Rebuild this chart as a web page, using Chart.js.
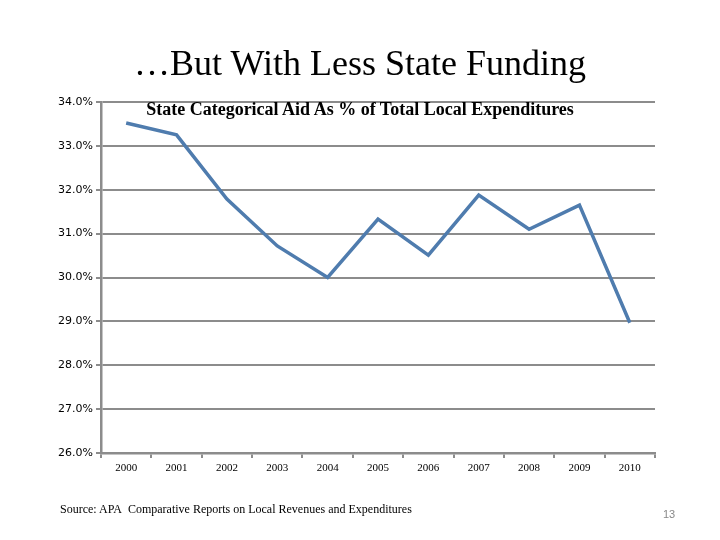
<!DOCTYPE html>
<html>
<head>
<meta charset="utf-8">
<script src="https://cdn.jsdelivr.net/npm/chart.js@4"></script>
<style>
  body { margin: 0; background: #fff; }
  .slide { position: relative; width: 720px; height: 540px; overflow: hidden; }
  #chart { position: absolute; left: 0; top: 0; }
  .title { position: absolute; left: 0; width: 720px; top: 42px; text-align: center;
           font-family: "Liberation Serif", serif; font-size: 36px; color: #000; }
  .subtitle { position: absolute; left: 0; width: 720px; top: 99px; text-align: center;
              font-family: "Liberation Serif", serif; font-size: 18px; font-weight: bold; color: #000; }
  .source { position: absolute; left: 60px; top: 502px;
            font-family: "Liberation Serif", serif; font-size: 12px; color: #000; }
  .page { position: absolute; left: 663px; top: 508px;
          font-family: "Liberation Sans", sans-serif; font-size: 11px; color: #888; }
</style>
</head>
<body>
<div class="slide">
  <canvas id="chart" width="720" height="540"></canvas>
  <div class="title">…But With Less State Funding</div>
  <div class="subtitle">State Categorical Aid As % of Total Local Expenditures</div>
  <div class="source">Source: APA&nbsp; Comparative Reports on Local Revenues and Expenditures</div>
  <div class="page">13</div>
</div>
<script>
// data
const years = ['2000', '2001', '2002', '2003', '2004', '2005', '2006', '2007', '2008', '2009', '2010']
const aidShare = [33.52, 33.25, 31.79, 30.72, 30.0, 31.33, 30.51, 31.88, 31.1, 31.65, 28.97]
const yMin = 26
const yMax = 34

const gridGray = '#8c8c8c'

new Chart(document.getElementById('chart'), {
    type: 'line',
    data: {
        labels: years,
        datasets: [
            {
                label: 'State Categorical Aid',
                data: aidShare,
                borderColor: '#4f7cae',
                borderWidth: 3.5,
                pointRadius: 0,
                tension: 0,
                fill: false
            }
        ]
    },
    options: {
        responsive: false,
        animation: false,
        layout: { padding: { top: 102, right: 65, left: 0, bottom: 57 } },
        plugins: { legend: { display: false }, tooltip: { enabled: false } },
        scales: {
            x: {
                offset: true,
                afterFit: function (s) { s.height = 30 },
                grid: { offset: true, drawOnChartArea: false, drawTicks: true, tickLength: 5, color: gridGray, lineWidth: 2 },
                border: { color: gridGray, width: 2.5 },
                ticks: { color: '#000', font: { family: 'Liberation Serif', size: 11 }, padding: 4, maxRotation: 0 }
            },
            y: {
                min: yMin,
                max: yMax,
                afterFit: function (s) { s.width = 101 },
                grid: { color: gridGray, lineWidth: 2, tickLength: 5 },
                border: { color: gridGray, width: 2.5 },
                ticks: {
                    stepSize: 1,
                    color: '#000',
                    padding: 3,
                    font: { family: 'DejaVu Sans', size: 11 },
                    callback: function (v) { return v.toFixed(1) + '%' }
                }
            }
        }
    }
})
</script>
</body>
</html>
